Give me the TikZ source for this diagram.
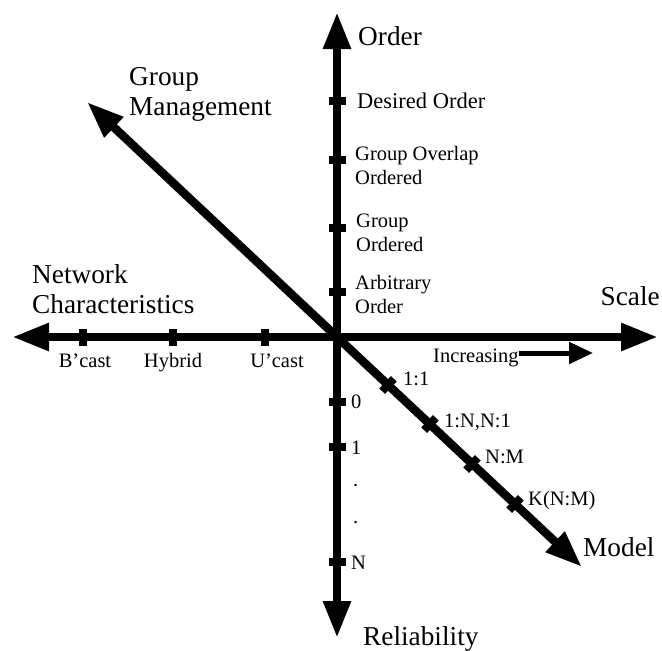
\documentclass[tikz,border=0pt]{standalone}
\usepackage{fontspec}
\setmainfont{Liberation Serif}
\usetikzlibrary{arrows.meta}
\begin{document}
\begin{tikzpicture}[x=1pt,y=-1pt,
  axis/.style={line width=8.5pt,-{Triangle[length=37pt,width=26pt]}},
  thin arrow/.style={line width=5pt,-{Triangle[length=24pt,width=21pt]}},
  tick/.style={fill=black,inner sep=0pt,minimum width=17pt,minimum height=8pt},
  big/.style={font=\fontsize{27.3}{30}\selectfont,inner sep=0pt,align=left},
  small/.style={font=\fontsize{20.5}{24}\selectfont,inner sep=0pt,align=left}]
\useasboundingbox (0,0) rectangle (662,651);

% axis ends
\coordinate (O) at (337,337);
\coordinate (top) at (337,12);
\coordinate (bottom) at (337,638);
\coordinate (left) at (12,337);
\coordinate (right) at (658,337);
\coordinate (gm) at (87,102);
\coordinate (model) at (582,567);

\draw[axis] (O) -- (top);
\draw[axis] (O) -- (bottom);
\draw[axis] (O) -- (left);
\draw[axis] (O) -- (right);
\draw[axis] (O) -- (gm);
\draw[axis] (O) -- (model);

% ticks on the order axis
\node[tick] (t-des) at (337,101) {};
\node[tick] (t-gov) at (337,160) {};
\node[tick] (t-gor) at (337,228) {};
\node[tick] (t-arb) at (337,292) {};
% ticks on the reliability axis
\node[tick] (t-r0) at (337,402) {};
\node[tick] (t-r1) at (337,447) {};
\node[tick] (t-rn) at (337,562) {};
% ticks on the network axis
\node[tick,rotate=90] (t-bc) at (83,337) {};
\node[tick,rotate=90] (t-hy) at (173,337) {};
\node[tick,rotate=90] (t-uc) at (265,337) {};
% ticks on the model axis
\node[tick,rotate=46.8] (t-11) at (388,385) {};
\node[tick,rotate=46.8] (t-1n) at (430,424) {};
\node[tick,rotate=46.8] (t-nm) at (472,464) {};
\node[tick,rotate=46.8] (t-kn) at (515,504) {};

% axis names (base anchor = baseline of the last line)
\node[big,anchor=base west] (l-order) at (358,45) {Order};
\node[big,anchor=base west] (l-gm) at (129,115) {Group\\Management};
\node[big,anchor=base west] (l-net) at (32,313) {Network\\Characteristics};
\node[big,anchor=base east] (l-scale) at (660,305) {Scale};
\node[big,anchor=base west] (l-model) at (583,556) {Model};
\node[big,anchor=base west] (l-rel) at (363,645) {Reliability};

% order levels
\node[small,anchor=base west,font=\fontsize{22.5}{24}\selectfont] (o1) at (357,108) {Desired Order};
\node[small,anchor=base west] (o2) at (355,184) {Group Overlap\\Ordered};
\node[small,anchor=base west] (o3) at (356,251) {Group\\Ordered};
\node[small,anchor=base west] (o4) at (355,313) {Arbitrary\\Order};

% network types
\node[small,anchor=base] (n1) at (85,367) {B'cast};
\node[small,anchor=base] (n2) at (173,367) {Hybrid};
\node[small,anchor=base] (n3) at (277,367) {U'cast};

% reliability levels
\node[small,anchor=base west] (r0) at (351,408) {0};
\node[small,anchor=base west] (r1) at (351,454) {1};
\node[small,anchor=base west] (rd1) at (353,486) {.};
\node[small,anchor=base west] (rd2) at (353,523) {.};
\node[small,anchor=base west] (rn) at (351,569) {N};

% model types
\node[small,anchor=base west] (m1) at (403,385) {1:1};
\node[small,anchor=base west] (m2) at (444,427) {1:N,N:1};
\node[small,anchor=base west] (m3) at (485,463) {N:M};
\node[small,anchor=base west] (m4) at (528,505) {K(N:M)};

% scale direction
\node[small,anchor=base west] (inc) at (433,362) {Increasing};
\coordinate (inc-end) at (593,353);
\draw[thin arrow] (inc.east |- inc-end) -- (inc-end);
\end{tikzpicture}
\end{document}
